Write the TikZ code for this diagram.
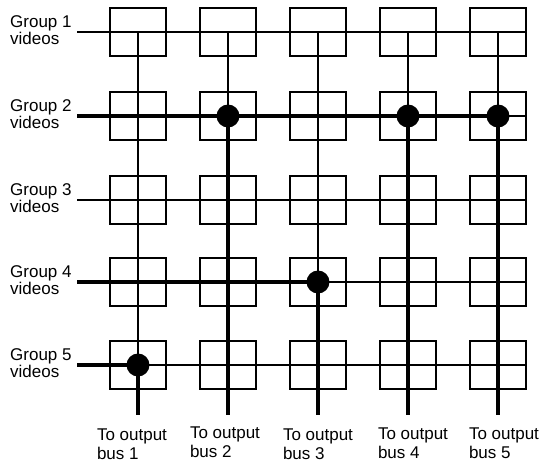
\documentclass[tikz,border=0pt]{standalone}
\usepackage{fontspec}
\setmainfont{Liberation Sans}
\usetikzlibrary{positioning}
\begin{document}
\begin{tikzpicture}[x=1pt,y=-1pt,line cap=butt,line join=miter]
  \tikzset{
    xbox/.style={draw,line width=1.8pt,minimum width=56pt,minimum height=48pt,inner sep=0pt},
    thinline/.style={line width=1.4pt},
    busline/.style={line width=3.8pt},
    grouplabel/.style={align=left,anchor=west,inner sep=0pt,font=\fontsize{17}{15}\selectfont},
    buslabel/.style={align=left,inner sep=0pt,font=\fontsize{17}{19}\selectfont},
  }
  \useasboundingbox (0,0) rectangle (542,464);

  % ==================== crosspoint boxes ====================
  \foreach \i/\x in {1/138,2/228,3/318,4/408,5/498}
    \foreach \j/\y in {1/32,2/116,3/200,4/282,5/365}
      \node[xbox] (b\i\j) at (\x,\y) {};

  % inputs and outputs
  \foreach \j/\y in {1/32,2/116,3/200,4/282,5/365}{
    \coordinate (in\j) at (77,\y);
    \node[grouplabel] (g\j) at (10,\y-2) {Group \j\\videos};
  }
  \foreach \i/\x in {1/138,2/228,3/318,4/408,5/498}
    \coordinate (out\i) at (\x,415);

  % ==================== group rows ====================
  \draw[thinline] (in1) -- (b51.east);
  \draw[busline] (in2) -- (b52.center);
  \draw[thinline] (b52.center) -- (b52.east);
  \draw[thinline] (in3) -- (b53.east);
  \draw[busline] (in4) -- (b34.center);
  \draw[thinline] (b34.center) -- (b54.east);
  \draw[busline] (in5) -- (b15.center);
  \draw[thinline] (b15.center) -- (b55.east);

  % ==================== output buses ====================
  \draw[thinline] (b11.center) -- (b15.center);
  \draw[busline] (b15.center) -- (out1);
  \draw[thinline] (b21.center) -- (b22.center);
  \draw[busline] (b22.center) -- (out2);
  \draw[thinline] (b31.center) -- (b34.center);
  \draw[busline] (b34.center) -- (out3);
  \draw[thinline] (b41.center) -- (b42.center);
  \draw[busline] (b42.center) -- (out4);
  \draw[thinline] (b51.center) -- (b52.center);
  \draw[busline] (b52.center) -- (out5);

  % closed crosspoints
  \foreach \c in {b22,b42,b52,b34,b15}
    \fill (\c.center) circle[radius=11.5];

  % bus labels
  \node[buslabel,below=14pt of out1,xshift=-6pt] (bus1) {To output\\bus 1};
  \node[buslabel,below=12pt of out2,xshift=-3pt] (bus2) {To output\\bus 2};
  \node[buslabel,below=14pt of out3] (bus3) {To output\\bus 3};
  \node[buslabel,below=13pt of out4,xshift=5pt] (bus4) {To output\\bus 4};
  \node[buslabel,below=13pt of out5,xshift=6pt] (bus5) {To output\\bus 5};
\end{tikzpicture}
\end{document}
